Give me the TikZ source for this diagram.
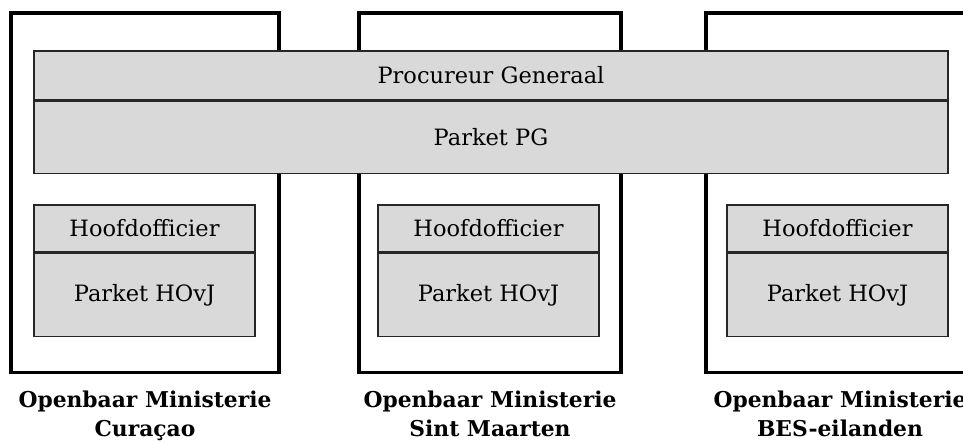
\documentclass[tikz,border=0pt]{standalone}
\usepackage{fontspec}
\setmainfont{DejaVu Serif}
\usepackage{tikz}
\usetikzlibrary{positioning}
\definecolor{boxgray}{RGB}{217 217 217}
\definecolor{edgegray}{RGB}{38 38 38}
\tikzstyle{island} = [rectangle, minimum width=6.7cm, minimum height=8.975cm, draw=black, line width=2.2pt]
\tikzstyle{pgbar} = [rectangle, minimum width=22.85cm, text centered, draw=edgegray, fill=boxgray, line width=1pt, font=\fontsize{16}{19}\selectfont]
\tikzstyle{hovj} = [rectangle, minimum width=5.525cm, text centered, draw=edgegray, fill=boxgray, line width=1pt, font=\fontsize{16}{19}\selectfont]
\tikzstyle{islandname} = [align=center, font=\fontsize{15.5}{20.8}\selectfont\bfseries]

\begin{document}
\begin{tikzpicture}[x=0.025cm, y=-0.025cm]
        \useasboundingbox (0,0) rectangle (963,443);
        \node (cur) [island] at (145,192.5) {};
        \node (sxm) [island, minimum width=6.55cm] at (490,192.5) {};
        \node (bes) [island] at (840,192.5) {};
        \node (pg) [pgbar, minimum height=1.225cm] at (491,75.5) {Procureur Generaal};
        \node (parketpg) [pgbar, minimum height=1.8cm, below=0pt of pg] {Parket PG};
        \node (curhoofd) [hovj, minimum height=1.175cm] at (144.5,228.5) {Hoofdofficier};
        \node (curparket) [hovj, minimum height=2.075cm, below=0pt of curhoofd] {Parket HOvJ};
        \node (sxmhoofd) [hovj, minimum height=1.175cm] at (488.5,228.5) {Hoofdofficier};
        \node (sxmparket) [hovj, minimum height=2.075cm, below=0pt of sxmhoofd] {Parket HOvJ};
        \node (beshoofd) [hovj, minimum height=1.175cm] at (837.5,228.5) {Hoofdofficier};
        \node (besparket) [hovj, minimum height=2.075cm, below=0pt of beshoofd] {Parket HOvJ};
        \node (curname) [islandname, below=0.3cm of cur] {Openbaar Ministerie\\Curaçao};
        \node (sxmname) [islandname, below=0.3cm of sxm] {Openbaar Ministerie\\Sint Maarten};
        \node (besname) [islandname, below=0.3cm of bes] {Openbaar Ministerie\\BES-eilanden};
    \end{tikzpicture}
\end{document}
